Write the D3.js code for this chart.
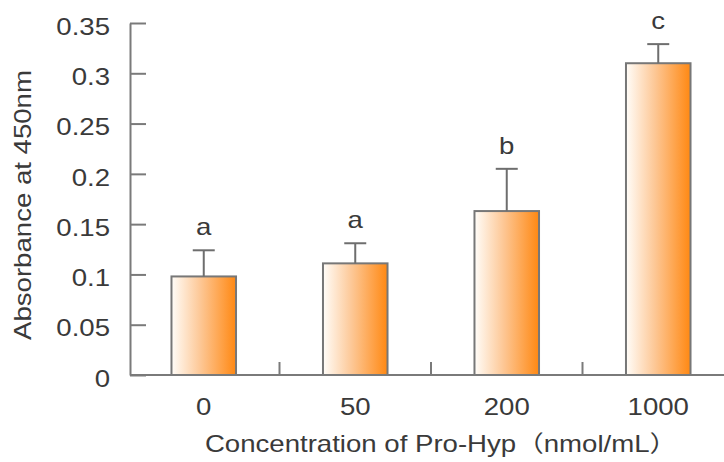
<!DOCTYPE html>
<html>
<head>
<meta charset="utf-8">
<script src="https://cdn.jsdelivr.net/npm/d3@7"></script>
<style>
  body { margin: 0; background: #fff; }
  text { font-family: "Liberation Sans", Arial, "Noto Sans CJK SC", sans-serif; fill: #3a3a3a; }
</style>
</head>
<body>
<script>
var categories = ["0", "50", "200", "1000"];
var means = [0.098, 0.111, 0.163, 0.310];
var errors = [0.026, 0.020, 0.042, 0.019];
var letters = ["a", "a", "b", "c"];
var yTicks = [0, 0.05, 0.1, 0.15, 0.2, 0.25, 0.3, 0.35];
var yTickLabels = ["0", "0.05", "0.1", "0.15", "0.2", "0.25", "0.3", "0.35"];
var xTitle = "Concentration of Pro-Hyp\uFF08nmol/mL\uFF09";
var yTitle = "Absorbance at 450nm";

var width = 724, height = 462;
var axisX = 130, axisY = 375;
var stretch = 1.2;
var fontSize = 23;
var axisColor = "#7a7a7a";

var svg = d3.select("body").append("svg")
    .attr("width", width)
    .attr("height", height);

var defs = svg.append("defs");
var grad = defs.append("linearGradient")
    .attr("id", "barGrad")
    .attr("x1", "0%").attr("x2", "100%")
    .attr("y1", "0%").attr("y2", "0%");
grad.append("stop").attr("offset", "0%").attr("stop-color", "#fffdf9");
grad.append("stop").attr("offset", "45%").attr("stop-color", "#fdc795");
grad.append("stop").attr("offset", "100%").attr("stop-color", "#ff8812");

var y = d3.scaleLinear()
    .domain([0, 0.35])
    .range([axisY, 23]);

var x = d3.scaleBand()
    .domain(categories)
    .range([128, 734])
    .paddingInner(0.574)
    .paddingOuter(0.287);

var data = categories.map(function (c, i) {
    return { cat: c, mean: means[i], err: errors[i], letter: letters[i] };
});

// bars
svg.selectAll(".bar")
    .data(data)
    .enter()
    .append("rect")
    .attr("class", "bar")
    .attr("x", function (d) { return x(d.cat); })
    .attr("y", function (d) { return y(d.mean); })
    .attr("width", x.bandwidth())
    .attr("height", function (d) { return y(0) - y(d.mean); })
    .style("fill", "url(#barGrad)")
    .style("stroke", "#777")
    .style("stroke-width", 2);

// error bars (upper only)
var capHalf = 11;
svg.selectAll(".err")
    .data(data)
    .enter()
    .append("line")
    .attr("x1", function (d) { return x(d.cat) + x.bandwidth() / 2; })
    .attr("x2", function (d) { return x(d.cat) + x.bandwidth() / 2; })
    .attr("y1", function (d) { return y(d.mean); })
    .attr("y2", function (d) { return y(d.mean + d.err); })
    .style("stroke", "#6e6e6e")
    .style("stroke-width", 2);

svg.selectAll(".cap")
    .data(data)
    .enter()
    .append("line")
    .attr("x1", function (d) { return x(d.cat) + x.bandwidth() / 2 - capHalf; })
    .attr("x2", function (d) { return x(d.cat) + x.bandwidth() / 2 + capHalf; })
    .attr("y1", function (d) { return y(d.mean + d.err); })
    .attr("y2", function (d) { return y(d.mean + d.err); })
    .style("stroke", "#6e6e6e")
    .style("stroke-width", 2);

// significance letters
svg.selectAll(".letter")
    .data(data)
    .enter()
    .append("text")
    .attr("transform", function (d) {
        return "translate(" + (x(d.cat) + x.bandwidth() / 2) + "," + (y(d.mean + d.err) - 15) + ") scale(" + stretch + ",1)";
    })
    .attr("text-anchor", "middle")
    .style("font-size", fontSize + "px")
    .text(function (d) { return d.letter; });

// y axis
var yAxis = d3.axisLeft(y)
    .tickValues(yTicks)
    .tickFormat(function (d, i) { return yTickLabels[i]; })
    .tickSizeInner(-16)
    .tickSizeOuter(0)
    .tickPadding(20);

var gy = svg.append("g")
    .attr("transform", "translate(" + axisX + ",0)")
    .call(yAxis);
gy.select(".domain").style("stroke", axisColor).style("stroke-width", 2);
gy.selectAll(".tick line").style("stroke", axisColor).style("stroke-width", 2);
gy.selectAll(".tick text")
    .attr("x", -20 / stretch)
    .attr("dy", "0.49em")
    .attr("transform", "scale(" + stretch + ",1)")
    .style("font-size", fontSize + "px")
    .style("font-family", null)
    .attr("font-family", null)
    .style("fill", "#3a3a3a");

// x axis
var xAxis = d3.axisBottom(x)
    .tickSize(0)
    .tickPadding(24);

var gx = svg.append("g")
    .attr("transform", "translate(0," + axisY + ")")
    .call(xAxis);
gx.select(".domain").remove();
gx.selectAll(".tick text")
    .attr("transform", "scale(" + stretch + ",1)")
    .attr("font-family", null)
    .style("font-size", fontSize + "px")
    .style("fill", "#3a3a3a");

gx.append("line")
    .attr("x1", axisX)
    .attr("x2", width)
    .attr("y1", 0)
    .attr("y2", 0)
    .style("stroke", axisColor)
    .style("stroke-width", 2);

// small ticks between categories
var bounds = categories.slice(0, -1).map(function (c, i) {
    return (x(c) + x.bandwidth() + x(categories[i + 1])) / 2;
});
gx.selectAll(".sep")
    .data(bounds)
    .enter()
    .append("line")
    .attr("x1", function (d) { return d; })
    .attr("x2", function (d) { return d; })
    .attr("y1", 0)
    .attr("y2", -13)
    .style("stroke", axisColor)
    .style("stroke-width", 2);

// axis titles
svg.append("text")
    .attr("transform", "translate(441,452) scale(" + stretch + ",1)")
    .attr("text-anchor", "middle")
    .style("font-size", fontSize + "px")
    .text(xTitle);

svg.append("text")
    .attr("transform", "translate(31,205) rotate(-90) scale(" + stretch + ",1)")
    .attr("text-anchor", "middle")
    .style("font-size", fontSize + "px")
    .text(yTitle);
</script>
</body>
</html>
